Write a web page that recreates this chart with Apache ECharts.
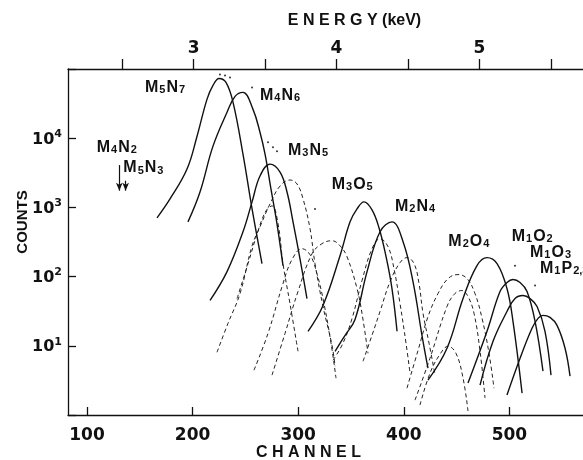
<!DOCTYPE html>
<html>
<head>
<meta charset="utf-8">
<script src="https://cdn.jsdelivr.net/npm/echarts@6/dist/echarts.min.js"></script>
<style>
html, body { margin: 0; padding: 0; overflow: hidden; background: #fff; }
#chart { width: 640px; height: 460px; }
</style>
</head>
<body>
<div id="chart"></div>
<script>
// axes
const chMin = 82;
const chMax = 600;
const channelTicks = [100, 200, 300, 400, 500];
const energyTicks = [2.5, 3, 3.5, 4, 4.5, 5, 5.5];
const energyLabels = [3, 4, 5];
const calChannel = 201;
const calPerKeV = 135.3;

// fitted peaks, [channel, counts]
const m5n7 = [[166.3, 706], [178.6, 1324], [194.7, 3584], [204.2, 10690], [213.6, 36400], [219.3, 57900], [225.0, 72900], [231.6, 63900], [238.3, 33000], [247.7, 5890], [256.3, 951], [265.7, 154]];
const m4n6 = [[195.6, 618], [207.0, 1671], [219.3, 7680], [232.6, 23700], [240.2, 40200], [247.7, 45900], [257.2, 26100], [263.8, 12200], [268.6, 5890], [274.2, 1845], [279.9, 580], [285.6, 144]];
const m3n5 = [[216.5, 45.2], [232.6, 118], [247.7, 444], [256.3, 1200], [263.8, 2840], [273.3, 4220], [282.8, 3240], [289.4, 1671], [295.1, 618], [301.7, 181], [308.3, 48.2]];
const m3o5 = [[309.3, 16.2], [323.5, 38.3], [339.6, 200], [349.1, 618], [355.7, 951], [362.3, 1200], [369.9, 920], [376.5, 507], [383.2, 194], [388.8, 67.2], [393.6, 16.2]];
const m2n4 = [[334.9, 8.34], [344.4, 14.2], [353.8, 24.0], [365.2, 118], [377.5, 444], [388.8, 618], [399.3, 319], [408.7, 84.7], [417.2, 14.2], [422.9, 4.74]];
const m2o4 = [[422.9, 3.19], [440.9, 9.21], [456.1, 48.2], [469.3, 144], [478.8, 188], [488.3, 154], [497.7, 67.2], [503.4, 22.5], [512.0, 2.07]];
const m1o2 = [[460.8, 2.89], [478.8, 16.2], [491.1, 60.8], [497.7, 82.0], [503.4, 90.6], [510.1, 82.0], [516.7, 60.8], [524.3, 22.5], [531.8, 4.30]];
const m1o3 = [[472.2, 2.70], [484.5, 11.6], [497.7, 31.3], [505.3, 48.2], [512.9, 53.3], [519.5, 48.2], [526.2, 37.0], [533.7, 16.2], [539.4, 3.77]];
const m1p23 = [[497.7, 1.94], [510.1, 6.61], [521.4, 17.9], [527.1, 24.9], [531.8, 27.5], [538.5, 25.7], [545.1, 19.7], [552.7, 9.21], [557.4, 3.64]];

// other components (dashed)
const compA = [[223.1, 8.07], [233.5, 21.1], [244.9, 56.9], [256.3, 279], [263.8, 524], [273.3, 1122], [282.8, 2036], [292.2, 2488], [298.9, 2178], [304.6, 1324], [311.2, 491], [315.9, 154], [323.5, 37.0], [332.0, 10.2], [334.9, 5.07]];
const compB = [[258.1, 4.44], [271.4, 15.1], [285.6, 79.3], [294.1, 176], [303.6, 253], [311.2, 207], [317.8, 110], [324.4, 40.9], [331.1, 10.9], [335.8, 3.41]];
const compC = [[242.1, 48.2], [252.5, 154], [262.0, 459], [269.5, 891], [275.2, 1051], [280.9, 579], [285.6, 154], [292.2, 40.9], [299.8, 8.34]];
const compD = [[275.2, 3.77], [287.5, 15.1], [299.8, 60.8], [313.1, 214], [322.5, 299], [332.0, 330], [339.6, 279], [346.2, 194], [355.7, 67.2], [360.4, 29.4], [366.1, 7.80]];
const compE = [[333.0, 6.18], [342.4, 10.9], [351.0, 24.9], [360.4, 87.5], [369.9, 253], [377.5, 352], [385.1, 270], [390.7, 130], [396.4, 40.9], [402.1, 10.9], [405.9, 4.02]];
const compF = [[361.4, 5.98], [369.9, 14.2], [377.5, 31.4], [387.0, 84.7], [396.4, 159], [403.0, 188], [409.7, 154], [414.4, 79.3], [418.2, 29.4], [423.9, 10.9], [429.6, 3.77]];
const compG = [[403.0, 2.44], [413.5, 8.61], [423.0, 26.6], [432.4, 56.9], [441.9, 93.6], [451.3, 107], [459.9, 93.6], [467.4, 56.9], [474.1, 24.9], [480.7, 7.80], [485.4, 2.44]];
const compH = [[410.6, 1.64], [424.8, 6.61], [440.9, 37.0], [448.4, 56.9], [455.0, 62.9], [460.8, 51.5], [466.5, 29.4], [472.2, 8.34], [476.9, 1.76]];
const compI = [[415.3, 1.39], [424.8, 4.02], [434.3, 7.55], [441.9, 9.84], [449.4, 7.80], [456.1, 3.41], [460.8, 1.14]];

// measured points above the fit
const measured = [[225.9, 83400], [230.7, 80500], [235.4, 75500], [256.3, 54200], [271.4, 8760], [276.1, 7430], [279.9, 6500], [315.9, 951], [505.3, 144], [524.3, 74.3]];

// line labels: [channel, counts] of the label's left edge
const lineLabels = [
  { name: 'M{s|5}N{s|7}', value: [154.9, 54200] },
  { name: 'M{s|4}N{s|6}', value: [263.8, 40900] },
  { name: 'M{s|3}N{s|5}', value: [290.3, 6710] },
  { name: 'M{s|3}O{s|5}', value: [331.7, 2110] },
  { name: 'M{s|2}N{s|4}', value: [391.7, 1016] },
  { name: 'M{s|2}O{s|4}', value: [442.2, 324] },
  { name: 'M{s|1}O{s|2}', value: [502.2, 377] },
  { name: 'M{s|1}O{s|3}', value: [519.5, 221] },
  { name: 'M{s|1}P{s|2,3}', value: [529.0, 130] },
  { name: 'M{s|4}N{s|2}', value: [109.2, 7430] },
  { name: 'M{s|5}N{s|3}', value: [134.4, 3700] }
];
// arrows: [channel, from counts, to counts]
const arrows = [[130.6, 4090, 1745], [136.6, 2430, 1745]];

const solid = [m5n7, m4n6, m3n5, m3o5, m2n4, m2o4, m1o2, m1o3, m1p23];
const dashed = [compA, compB, compC, compD, compE, compF, compG, compH, compI];

const toKeV = (ch) => 3 + (ch - calChannel) / calPerKeV;
const ink = '#111';
const numFont = { fontFamily: 'DejaVu Sans', fontWeight: 'bold', fontSize: 17, color: ink };
const titleFont = { fontFamily: 'Liberation Sans', fontWeight: 'bold', fontSize: 16, color: ink };

const series = [];
dashed.forEach((d) => {
  series.push({
    type: 'line', data: d, smooth: 0.4, symbol: 'none', silent: true,
    lineStyle: { color: '#222', width: 1, type: [4, 3] }
  });
});
solid.forEach((d) => {
  series.push({
    type: 'line', data: d, smooth: 0.4, symbol: 'none', silent: true,
    lineStyle: { color: ink, width: 1.4 }
  });
});
series.push({
  type: 'scatter', data: measured, symbolSize: 2, silent: true,
  itemStyle: { color: '#333', opacity: 1 }
});
series.push({
  type: 'scatter', data: lineLabels, symbolSize: 0, silent: true,
  itemStyle: { opacity: 1 },
  label: {
    show: true, position: 'right', distance: 0, opacity: 1,
    formatter: (p) => p.name,
    fontFamily: 'Liberation Sans', fontWeight: 'bold', fontSize: 16, color: ink,
    rich: {
      s: { fontFamily: 'Liberation Sans', fontWeight: 'bold', fontSize: 11, color: ink, lineHeight: 12, verticalAlign: 'bottom', padding: [6, 1, 0, 1] }
    }
  },
  markLine: {
    silent: true, animation: false,
    symbol: ['none', 'arrow'], symbolSize: [5, 8],
    lineStyle: { color: ink, width: 1.2, type: 'solid', opacity: 1 },
    label: { show: false },
    data: arrows.map((a) => [{ coord: [a[0], a[1]] }, { coord: [a[0], a[2]] }])
  }
});

const chart = echarts.init(document.getElementById('chart'));
chart.setOption({
  animation: false,
  backgroundColor: '#fff',
  grid: { left: 68, right: 25, top: 69, bottom: 45, containLabel: false, outerBoundsMode: 'none' },
  xAxis: [
    {
      type: 'value', position: 'bottom', min: chMin, max: chMax,
      axisLine: { show: true, lineStyle: { color: ink, width: 1.3 } },
      axisTick: { show: true, inside: true, length: 8, customValues: channelTicks, lineStyle: { color: ink, width: 1.3 } },
      axisLabel: { customValues: channelTicks, margin: 12, ...numFont },
      splitLine: { show: false },
      name: 'C H A N N E L', nameLocation: 'middle', nameGap: 30, nameMoveOverlap: false,
      nameTextStyle: { ...titleFont, padding: [0, 66, 0, 0] }
    },
    {
      type: 'value', position: 'top', min: toKeV(chMin), max: toKeV(chMax),
      axisLine: { show: true, lineStyle: { color: ink, width: 1.3 } },
      axisTick: { show: true, inside: false, length: 10, customValues: energyTicks, lineStyle: { color: ink, width: 1.3 } },
      axisLabel: { customValues: energyLabels, margin: 12, ...numFont },
      splitLine: { show: false },
      name: 'E N E R G Y (keV)', nameLocation: 'middle', nameGap: 40, nameMoveOverlap: false,
      nameTextStyle: { ...titleFont, padding: [0, 0, 0, 26] }
    }
  ],
  yAxis: {
    type: 'log', logBase: 10, min: 1, max: 100000,
    axisLine: { show: true, lineStyle: { color: ink, width: 1.3 } },
    axisTick: { show: true, inside: true, length: 8, lineStyle: { color: ink, width: 1.3 } },
    minorTick: { show: false },
    splitLine: { show: false },
    axisLabel: {
      margin: 6,
      formatter: (v) => {
        const e = Math.round(Math.log10(v));
        if (e < 1 || e > 4) return '';
        return '{b|10}{sup|' + e + '}';
      },
      rich: {
        b: { ...numFont, fontSize: 16, lineHeight: 19, verticalAlign: 'bottom' },
        sup: { ...numFont, fontSize: 11, lineHeight: 11, verticalAlign: 'top' }
      }
    },
    name: 'COUNTS', nameLocation: 'middle', nameGap: 38, nameRotate: 90, nameMoveOverlap: false,
    nameTextStyle: { ...titleFont, fontSize: 15, padding: [0, 0, 0, 40] }
  },
  series: series
});
</script>
</body>
</html>
